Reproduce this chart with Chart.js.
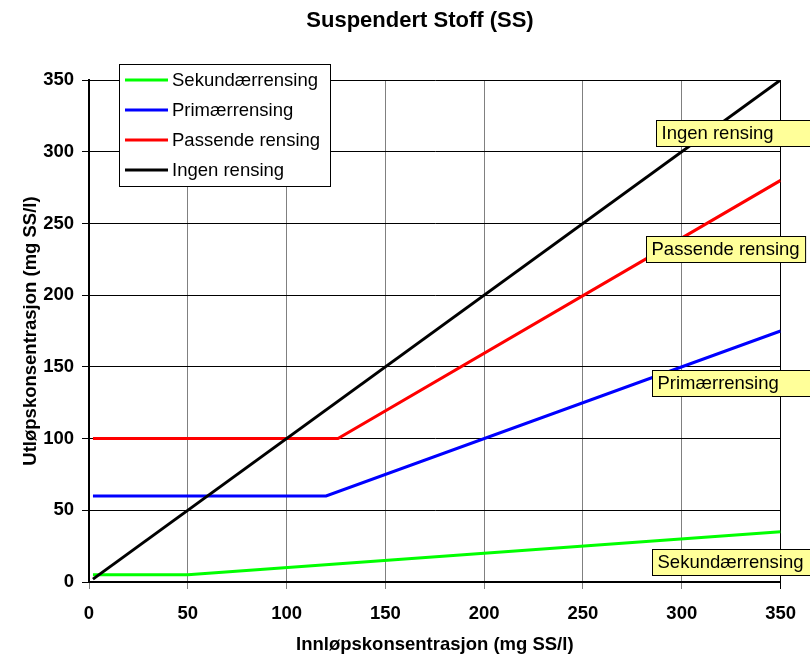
<!DOCTYPE html>
<html>
<head>
<meta charset="utf-8">
<script src="https://cdn.jsdelivr.net/npm/chart.js@4"></script>
<style>
  html, body { margin: 0; padding: 0; background: #fff; }
  #wrap { width: 810px; height: 657px; }
</style>
</head>
<body>
<div id="wrap"><canvas id="myChart" width="810" height="657"></canvas></div>
<script>
// values (break points of each curve)
var ingenX = [2, 350];
var ingenY = [2, 350];
var passendeX = [2, 126, 350];
var passendeY = [100, 100, 280];
var primaerX = [2, 120, 350];
var primaerY = [60, 60, 175];
var sekundaerX = [2, 50, 350];
var sekundaerY = [5, 5, 35];

var seriesNames = ['Sekundærrensing', 'Primærrensing', 'Passende rensing', 'Ingen rensing'];
var seriesColors = ['#00ff00', '#0000ff', '#ff0000', '#000000'];
var axisTicks = [0, 50, 100, 150, 200, 250, 300, 350];

function toPoints(xs, ys) {
    return xs.map(function (x, i) { return { x: x, y: ys[i] }; });
}

var seriesData = [
    toPoints(sekundaerX, sekundaerY),
    toPoints(primaerX, primaerY),
    toPoints(passendeX, passendeY),
    toPoints(ingenX, ingenY)
];

// yellow label boxes at the right: [name, left x, centre y] in data units,
// last flag = box runs off the right edge of the picture
var callouts = [
    ['Ingen rensing', 287, 313, true],
    ['Passende rensing', 282, 232, false],
    ['Primærrensing', 285, 139, true],
    ['Sekundærrensing', 285, 14, true]
];

var decor = {
    id: 'decor',
    afterDraw: function (chart) {
        var c = chart.ctx;
        var xs = chart.scales.x, ys = chart.scales.y;
        c.save();

        // title
        c.fillStyle = '#000';
        c.font = 'bold 22px Arial, "Liberation Sans"';
        c.textAlign = 'center';
        c.textBaseline = 'middle';
        c.fillText('Suspendert Stoff (SS)', 420, 21);

        // callouts
        c.font = '18.5px Arial, "Liberation Sans"';
        c.textAlign = 'left';
        callouts.forEach(function (cl) {
            var left = Math.round(xs.getPixelForValue(cl[1])) + 0.5;
            var mid = ys.getPixelForValue(cl[2]);
            var w = c.measureText(cl[0]).width + 11;
            if (cl[3]) w = Math.max(w, chart.width + 10 - left);
            var top = Math.round(mid - 13) + 0.5;
            c.fillStyle = '#ffff99';
            c.fillRect(left, top, w, 26);
            c.strokeStyle = '#000';
            c.lineWidth = 1;
            c.strokeRect(left, top, w, 26);
            c.fillStyle = '#000';
            c.fillText(cl[0], left + 5, mid + 1);
        });

        // legend box
        c.fillStyle = '#fff';
        c.fillRect(119.5, 64.5, 211, 122);
        c.strokeStyle = '#000';
        c.lineWidth = 1;
        c.strokeRect(119.5, 64.5, 211, 122);
        chart.data.datasets.forEach(function (ds, i) {
            var y = 80 + i * 30;
            c.strokeStyle = ds.borderColor;
            c.lineWidth = 3;
            c.beginPath();
            c.moveTo(125, y);
            c.lineTo(168, y);
            c.stroke();
            c.fillStyle = '#000';
            c.fillText(ds.label, 172, y + 1);
        });
        c.restore();
    }
};

var ctx = document.getElementById('myChart').getContext('2d');
var myChart = new Chart(ctx, {
    type: 'line',
    data: {
        datasets: seriesNames.map(function (name, i) {
            return {
                label: name,
                data: seriesData[i],
                borderColor: seriesColors[i],
                backgroundColor: seriesColors[i],
                borderWidth: 3,
                pointRadius: 0,
                tension: 0,
                fill: false,
                order: i === 3 ? 0 : 1
            };
        })
    },
    options: {
        responsive: false,
        animation: false,
        layout: { padding: { top: 80, right: 29, left: 0, bottom: 0 } },
        plugins: {
            legend: { display: false },
            title: { display: false },
            tooltip: { enabled: false }
        },
        scales: {
            x: {
                type: 'linear',
                min: 0,
                max: 350,
                afterBuildTicks: function (axis) {
                    axis.ticks = axisTicks.map(function (v) { return { value: v }; });
                },
                afterFit: function (axis) { axis.height = 75; },
                grid: {
                    color: function (c) { return c.index === axisTicks.length - 1 ? '#000' : '#808080'; },
                    lineWidth: 1,
                    tickLength: 7
                },
                border: { color: '#000', width: 2 },
                ticks: {
                    color: '#000',
                    padding: 14,
                    maxRotation: 0,
                    font: { family: 'Arial, "Liberation Sans"', size: 18.5, weight: 'bold' }
                },
                title: {
                    display: true,
                    text: 'Innløpskonsentrasjon (mg SS/l)',
                    color: '#000',
                    padding: { top: 0, bottom: 1 },
                    font: { family: 'Arial, "Liberation Sans"', size: 18.5, weight: 'bold' }
                }
            },
            y: {
                min: 0,
                max: 350,
                afterBuildTicks: function (axis) {
                    axis.ticks = axisTicks.map(function (v) { return { value: v }; });
                },
                afterFit: function (axis) { axis.width = 89; },
                grid: { color: '#000', lineWidth: 1, tickLength: 7 },
                border: { color: '#000', width: 2 },
                ticks: {
                    color: '#000',
                    padding: 8,
                    font: { family: 'Arial, "Liberation Sans"', size: 18.5, weight: 'bold' }
                },
                title: {
                    display: true,
                    text: 'Utløpskonsentrasjon (mg SS/l)',
                    color: '#000',
                    padding: { top: 20, bottom: 0 },
                    font: { family: 'Arial, "Liberation Sans"', size: 18.5, weight: 'bold' }
                }
            }
        }
    },
    plugins: [decor]
});
</script>
</body>
</html>
